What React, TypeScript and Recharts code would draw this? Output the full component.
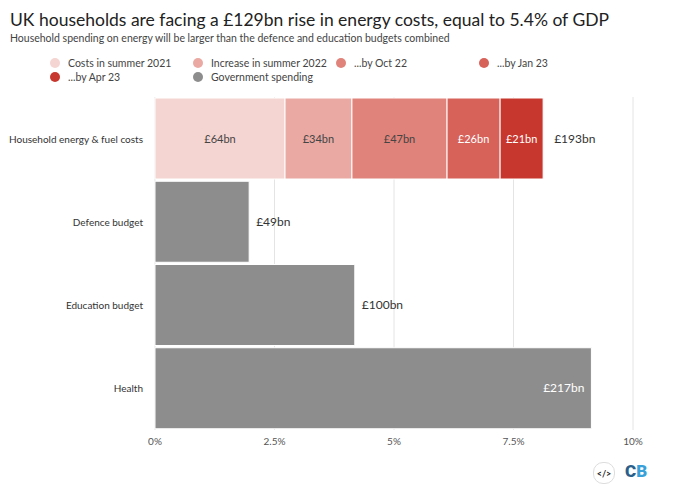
import React from 'react';
import { BarChart, Bar, XAxis, YAxis, CartesianGrid, LabelList } from 'recharts';

const categories = ['Household energy & fuel costs', 'Defence budget', 'Education budget', 'Health'];
// share of GDP (%)
const summer21 = [2.72, null, null, null];
const summer22 = [1.4, null, null, null];
const oct22 = [1.99, null, null, null];
const jan23 = [1.11, null, null, null];
const apr23 = [0.9, null, null, null];
const government = [null, 1.97, 4.18, 9.13];
// £bn labels
const energyLabels = ['£64bn', '£34bn', '£47bn', '£26bn', '£21bn'];
const energyTotal = '£193bn';
const govLabels = [null, '£49bn', '£100bn', '£217bn'];
const xTicks = [0, 2.5, 5, 7.5, 10];

const COLORS = ['#f4d5d1', '#eaaaa3', '#e0837a', '#d6625a', '#c8372d'];
const GREY = '#8d8d8d';
const FONT = 'Lato, sans-serif';

const legendItems = [
  { name: 'Costs in summer 2021', color: COLORS[0], x: 50, y: 64 },
  { name: 'Increase in summer 2022', color: COLORS[1], x: 193, y: 64 },
  { name: '...by Oct 22', color: COLORS[2], x: 336, y: 64 },
  { name: '...by Jan 23', color: COLORS[3], x: 479, y: 64 },
  { name: '...by Apr 23', color: COLORS[4], x: 50, y: 78 },
  { name: 'Government spending', color: GREY, x: 193, y: 78 },
];

const data = categories.map((name, i) => ({
  name,
  s1: summer21[i],
  s2: summer22[i],
  s3: oct22[i],
  s4: jan23[i],
  s5: apr23[i],
  gov: government[i],
  govLabel: govLabels[i],
}));

const segLabel = (idx: number, light: boolean) => (props: any) => {
  const { x, y, width, height, value } = props;
  if (value == null || !width) return null;
  return (
    <g>
      <text x={x + width / 2} y={y + height / 2} dy={4} textAnchor="middle" fontSize={11} fontFamily={FONT} fill={light ? '#fff' : '#444'}>
        {energyLabels[idx]}
      </text>
      {idx === 4 && (
        <text x={x + width + 11} y={y + height / 2} dy={4} fontSize={12} fontFamily={FONT} fill="#333">
          {energyTotal}
        </text>
      )}
    </g>
  );
};

const govLabel = (props: any) => {
  const { x, y, width, height, value } = props;
  if (!value || !width) return null;
  const inside = value === govLabels[3];
  return (
    <text
      x={inside ? x + width - 7 : x + width + 7}
      y={y + height / 2}
      dy={4}
      textAnchor={inside ? 'end' : 'start'}
      fontSize={12}
      fontFamily={FONT}
      fill={inside ? '#fff' : '#333'}
    >
      {value}
    </text>
  );
};

const CategoryTick = (props: any) => {
  const { x, y, payload } = props;
  return (
    <text x={x - 4} y={y} dy={4} textAnchor="end" fontSize={10} fill="#333" fontFamily={FONT}>
      {payload.value}
    </text>
  );
};

export default function App() {
  return (
    <div style={{ position: 'absolute', left: 0, top: 0, width: 680, height: 498, background: '#fff', fontFamily: FONT }}>
      <div style={{ position: 'absolute', left: 10, top: 9, fontSize: 17.5, color: '#222' }}>
        UK households are facing a £129bn rise in energy costs, equal to 5.4% of GDP
      </div>
      <div style={{ position: 'absolute', left: 10, top: 32, fontSize: 10.5, color: '#444' }}>
        Household spending on energy will be larger than the defence and education budgets combined
      </div>
      {legendItems.map((l) => (
        <div key={l.name} style={{ position: 'absolute', left: l.x, top: l.y - 7, display: 'flex', alignItems: 'center', fontSize: 10.5, color: '#444' }}>
          <span style={{ width: 10, height: 10, borderRadius: 5, background: l.color, marginRight: 8, display: 'inline-block' }} />
          {l.name}
        </div>
      ))}
      <div style={{ position: 'absolute', left: 0, top: 0 }}>
        <BarChart width={680} height={498} data={data} layout="vertical" barCategoryGap={1} margin={{ top: 97, right: 47, bottom: 38, left: 8 }}>
          <CartesianGrid horizontal={false} stroke="#e4e4e4" />
          <XAxis
            type="number"
            domain={[0, 10]}
            ticks={xTicks}
            tickFormatter={(v) => `${v}%`}
            axisLine={false}
            tickLine={false}
            height={30}
            tick={{ fontSize: 10, fill: '#555', fontFamily: FONT }}
          />
          <YAxis type="category" dataKey="name" width={147} axisLine={false} tickLine={false} tick={<CategoryTick />} />
          {['s1', 's2', 's3', 's4', 's5'].map((k, i) => (
            <Bar key={k} dataKey={k} stackId="a" fill={COLORS[i]} stroke="#fff" strokeWidth={1} isAnimationActive={false}>
              <LabelList dataKey={k} content={segLabel(i, i >= 3)} />
            </Bar>
          ))}
          <Bar dataKey="gov" stackId="a" fill={GREY} stroke="#fff" strokeWidth={1} isAnimationActive={false}>
            <LabelList dataKey="govLabel" content={govLabel} />
          </Bar>
        </BarChart>
      </div>
      <div style={{ position: 'absolute', left: 593, top: 462, width: 20, height: 20, borderRadius: 10, border: '1px solid #ddd', fontSize: 9, fontWeight: 700, display: 'flex', alignItems: 'center', justifyContent: 'center', color: '#222' }}>
        {'</>'}
      </div>
      <div style={{ position: 'absolute', left: 625, top: 461, fontSize: 17, fontWeight: 900, fontFamily: 'Roboto, sans-serif' }}>
        <span style={{ color: '#2a5f8c' }}>C</span>
        <span style={{ color: '#3aa0d8' }}>B</span>
      </div>
    </div>
  );
}
